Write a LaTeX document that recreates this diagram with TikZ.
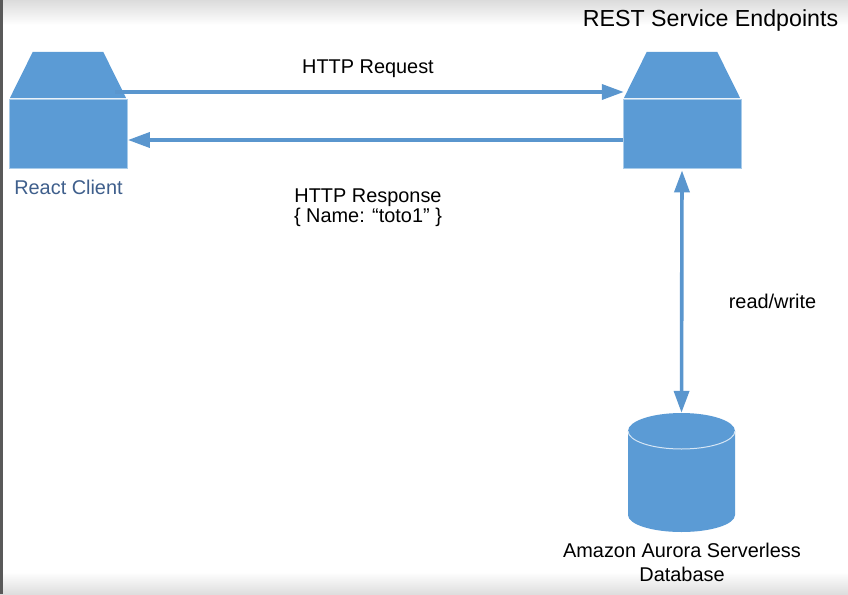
\documentclass[tikz,border=0pt]{standalone}
\usepackage{fontspec}
\setmainfont{Liberation Sans}
\usetikzlibrary{arrows.meta,calc}
\definecolor{blu}{HTML}{5B9BD5}
\definecolor{arrowblu}{HTML}{5A96CE}
\definecolor{edge}{HTML}{A9CCEA}
\definecolor{clientblue}{HTML}{3F5F8C}
\tikzset{
  boxbody/.style={rectangle,fill=blu,draw=edge,line width=0.8pt,minimum width=118pt,minimum height=69pt,inner sep=0pt},
  boxtop/.style={rectangle,minimum width=116pt,minimum height=46pt,inner sep=0pt},
  topfill/.style={fill=blu},
  dbshape/.style={rectangle,minimum width=107pt,minimum height=119pt,inner sep=0pt},
  flow/.style={draw=arrowblu,line width=3.6pt,-{Triangle[length=22pt,width=15pt]}},
  both/.style={draw=arrowblu,line width=3.6pt,{Triangle[length=22pt,width=15pt]}-{Triangle[length=22pt,width=15pt]}},
  lbl/.style={font=\fontsize{19.9}{20}\selectfont,text=black,align=center,inner sep=0pt}
}
\begin{document}
\begin{tikzpicture}[x=1pt,y=-1pt]
\useasboundingbox (0,0) rectangle (848,594);
\fill[white] (0,0) rectangle (848,594);
\shade[top color=black!14,bottom color=white] (0,0) rectangle (848,25);
\shade[top color=white,bottom color=black!13] (0,572) rectangle (848,594);
\fill[black!65] (0,0) rectangle (3,594);
\node[boxtop] (clienttop) at (68,75) {};
\node[boxtop] (servertop) at (682,75) {};
\fill[topfill] (clienttop.south west) -- ([xshift=23pt]clienttop.north west) -- ([xshift=-23pt]clienttop.north east) -- (clienttop.south east) -- cycle;
\fill[topfill] (servertop.south west) -- ([xshift=23pt]servertop.north west) -- ([xshift=-23pt]servertop.north east) -- (servertop.south east) -- cycle;
\node[boxbody] (clientbox) at (68.5,133.5) {};
\node[boxbody] (serverbox) at (682,133.5) {};
\node[dbshape] (db) at (681.5,472.5) {};
\fill[blu] (628,431) arc[x radius=53.5,y radius=18,start angle=180,end angle=360] -- (735,515) arc[x radius=53.5,y radius=17,start angle=0,end angle=180] -- cycle;
\draw[white!75!blu,line width=1pt] (628,431) arc[x radius=53.5,y radius=18,start angle=180,end angle=0];
\draw[flow] ([xshift=-11pt,yshift=-17pt]clienttop.east) -- ([xshift=0pt,yshift=-17pt]servertop.west);
\draw[flow] ([yshift=-6.5pt]serverbox.west) -- ([xshift=0pt,yshift=-6.5pt]clientbox.east);
\draw[both] ([yshift=-2pt]serverbox.south) -- (db.north);
\node[lbl] (req) at (368,68.5) {HTTP Request};
\node[lbl] (resp) at (368,207.5) {HTTP Response\\\{ Name: “toto1” \}};
\node[lbl,text=clientblue] (clientlbl) at (68.5,187) {React Client};
\node[lbl,font=\fontsize{23.2}{24}\selectfont] (title) at (710.5,21) {REST Service Endpoints};
\node[lbl] (rw) at (772.5,301) {read/write};
\node[lbl] (dblbl) at (682,562) {Amazon Aurora Serverless\\[4pt]Database};
\end{tikzpicture}
\end{document}
